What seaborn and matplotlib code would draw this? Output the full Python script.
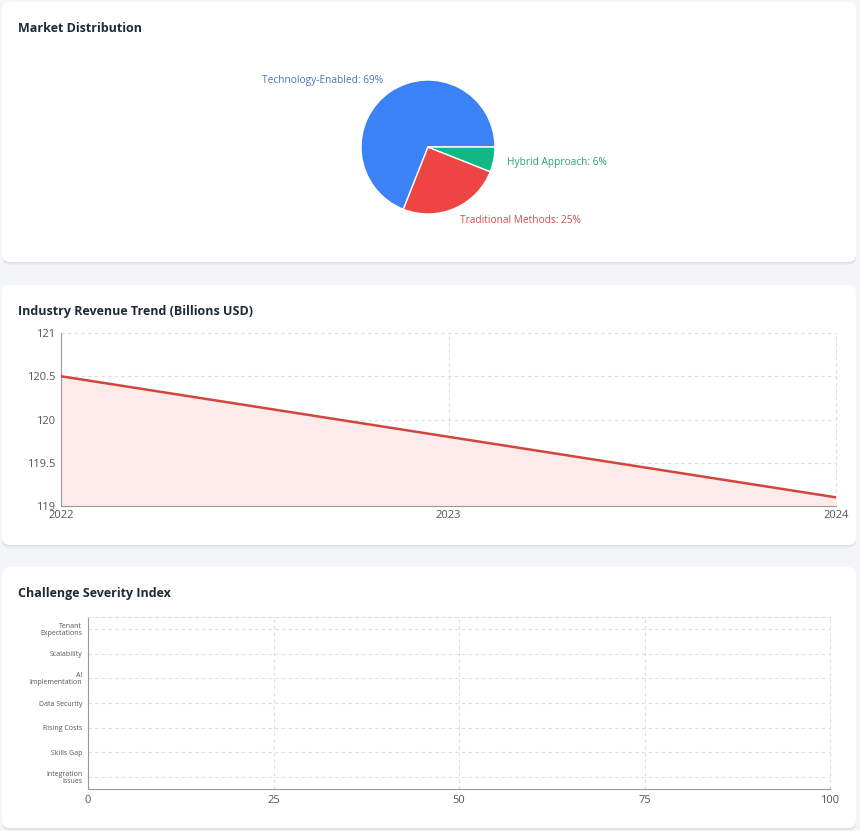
import matplotlib
matplotlib.use("Agg")
import matplotlib.pyplot as plt
from matplotlib.patches import FancyBboxPatch
import seaborn as sns
import pandas as pd

# ---------------- data ----------------
share_labels = ["Technology-Enabled", "Traditional Methods", "Hybrid Approach"]
share_values = [69, 25, 6]
share_colors = ["#3b82f6", "#ef4444", "#10b981"]
share_label_colors = ["#4a72b8", "#cf4f48", "#23a578"]

years = [2022, 2023, 2024]
revenue = [120.5, 119.8, 119.1]
rev_yticks = [119, 119.5, 120, 120.5, 121]

challenges = ["Tenant\nExpectations", "Scalability", "AI\nImplementation",
              "Data Security", "Rising Costs", "Skills Gap", "Integration\nIssues"]
severity = [0, 0, 0, 0, 0, 0, 0]
sev_xticks = [0, 25, 50, 75, 100]

# ---------------- setup ----------------
sns.set_theme(style="white")
plt.rcParams["font.family"] = ["Open Sans", "DejaVu Sans"]

W, H = 860, 831
fig = plt.figure(figsize=(W / 100, H / 100), dpi=100)
fig.patch.set_facecolor("#f3f5f9")


def px_axes(l, t, r, b):
    ax = fig.add_axes([l / W, 1 - b / H, (r - l) / W, (b - t) / H])
    ax.set_zorder(2)
    ax.patch.set_alpha(0)
    return ax


def card(l, t, r, b):
    for i, a in enumerate([0.03, 0.03, 0.04]):
        off = 3 - i
        fig.patches.append(FancyBboxPatch(
            (l / W, 1 - (b + off) / H), (r - l) / W, (b - t) / H,
            boxstyle="round,pad=0,rounding_size=0.009", transform=fig.transFigure,
            facecolor="#1e293b", edgecolor="none", alpha=a, zorder=-2))
    fig.patches.append(FancyBboxPatch(
        (l / W, 1 - b / H), (r - l) / W, (b - t) / H,
        boxstyle="round,pad=0,rounding_size=0.009", transform=fig.transFigure,
        facecolor="white", edgecolor="none", zorder=-1))


card(2, 2, 856, 262)
card(2, 285, 856, 545)
card(2, 567, 856, 828)

title_kw = dict(fontsize=9, fontweight="bold", color="#1f2937", ha="left", va="center")
fig.text(18 / W, 1 - 28 / H, "Market Distribution", **title_kw)
fig.text(18 / W, 1 - 311 / H, "Industry Revenue Trend (Billions USD)", **title_kw)
fig.text(18 / W, 1 - 593 / H, "Challenge Severity Index", **title_kw)

tick_color = "#555555"
spine_color = "#9a9a9a"
grid_kw = dict(color="#dddddd", linestyle=(0, (3, 3)), linewidth=0.8)

# ---------------- pie ----------------
ax1 = px_axes(361, 80, 495, 214)
labels = [f"{n}: {v}%" for n, v in zip(share_labels, share_values)]
wedges, texts = ax1.pie(share_values, colors=share_colors, labels=labels,
                        startangle=0, counterclock=True, labeldistance=1.2,
                        wedgeprops=dict(edgecolor="white", linewidth=1))
for t, c in zip(texts, share_label_colors):
    t.set_color(c)
    t.set_fontsize(7.3)
ax1.set_xlim(-1, 1)
ax1.set_ylim(-1, 1)
ax1.set_aspect("equal")
ax1.axis("off")

# ---------------- line ----------------
ax2 = px_axes(61, 333, 836, 506)
df_rev = pd.DataFrame({"year": years, "revenue": revenue})
ax2.fill_between(df_rev["year"], df_rev["revenue"], rev_yticks[0],
                 color="#fdeaea", zorder=1)
sns.lineplot(data=df_rev, x="year", y="revenue", ax=ax2, color="#d0453d",
             linewidth=1.8, zorder=3)
ax2.set_xlim(years[0], years[-1])
ax2.set_ylim(rev_yticks[0], rev_yticks[-1])
ax2.set_xticks(years)
ax2.set_xticklabels([str(y) for y in years])
ax2.set_yticks(rev_yticks)
ax2.set_yticklabels(["119", "119.5", "120", "120.5", "121"])
ax2.grid(True, **grid_kw)
ax2.set_axisbelow(True)
ax2.set_xlabel("")
ax2.set_ylabel("")
for s in ["top", "right"]:
    ax2.spines[s].set_visible(False)
for s in ["left", "bottom"]:
    ax2.spines[s].set_color(spine_color)
    ax2.spines[s].set_linewidth(0.8)
ax2.tick_params(axis="both", colors=tick_color, labelsize=8, length=3,
                width=0.8, direction="out")
ax2.tick_params(axis="y", pad=1)
ax2.tick_params(axis="x", pad=0)
ax2.tick_params(axis="both", color=spine_color)
for gl in ax2.get_xgridlines() + ax2.get_ygridlines():
    gl.set_clip_on(False)

# ---------------- bars ----------------
ax3 = px_axes(88, 617, 830, 789)
df_ch = pd.DataFrame({"challenge": challenges, "severity": severity})
sns.barplot(data=df_ch, x="severity", y="challenge", ax=ax3, orient="h",
            color="#3b82f6")
ax3.set_xlim(sev_xticks[0], sev_xticks[-1])
ax3.set_ylim(len(challenges) - 0.5, -0.5)
ax3.set_xticks(sev_xticks)
ax3.set_xlabel("")
ax3.set_ylabel("")
ax3.grid(True, **grid_kw)
ax3.set_axisbelow(True)
ax3.spines["right"].set_visible(False)
ax3.spines["top"].set_color("#dddddd")
ax3.spines["top"].set_linestyle((0, (3, 3)))
ax3.spines["top"].set_linewidth(0.8)
for s in ["left", "bottom"]:
    ax3.spines[s].set_color(spine_color)
    ax3.spines[s].set_linewidth(0.8)
ax3.tick_params(axis="x", colors=tick_color, labelsize=8, length=3, width=0.8,
                color=spine_color, pad=1)
ax3.tick_params(axis="y", colors=tick_color, labelsize=5, length=3, width=0.8,
                color=spine_color, pad=1)
for lab in ax3.get_yticklabels():
    lab.set_linespacing(1.0)
for gl in ax3.get_xgridlines():
    gl.set_clip_on(False)

fig.savefig("out.png", dpi=100, facecolor=fig.get_facecolor())
